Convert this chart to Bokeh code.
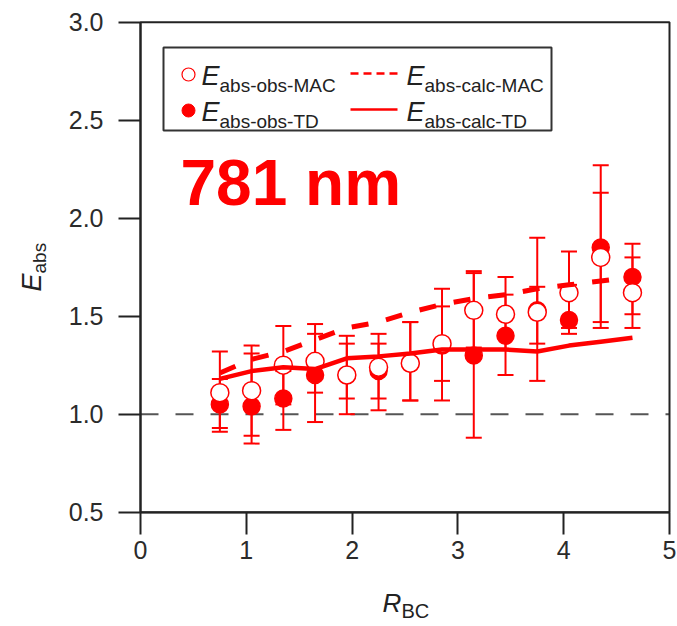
import math
from bokeh.plotting import figure
from bokeh.models import (ColumnDataSource, Whisker, TeeHead, Label,
                          BoxAnnotation, FixedTicker, Range1d)
from bokeh.embed import file_html
from bokeh.resources import INLINE

# ---------------- data ----------------
rbc = [0.75, 1.05, 1.35, 1.65, 1.95, 2.25, 2.55, 2.85, 3.15, 3.45, 3.75, 4.05, 4.35, 4.65]

obs_mac    = [1.11, 1.12, 1.25, 1.27, 1.20, 1.24, 1.26, 1.36, 1.53, 1.51, 1.52, 1.62, 1.80, 1.62]
obs_mac_lo = [0.93, 0.89, 1.05, 1.11, 1.00, 1.08, 1.07, 1.17, 1.34, 1.33, 1.36, 1.44, 1.44, 1.44]
obs_mac_hi = [1.32, 1.35, 1.45, 1.46, 1.40, 1.41, 1.47, 1.55, 1.72, 1.70, 1.65, 1.83, 2.13, 1.80]

obs_td     = [1.05, 1.04, 1.08, 1.20, 1.20, 1.22, 1.26, 1.35, 1.30, 1.40, 1.53, 1.48, 1.85, 1.70]
obs_td_lo  = [0.91, 0.85, 0.92, 0.96, 1.08, 1.02, 1.07, 1.07, 0.88, 1.20, 1.17, 1.41, 1.47, 1.51]
obs_td_hi  = [1.18, 1.31, 1.22, 1.41, 1.36, 1.36, 1.47, 1.64, 1.73, 1.61, 1.90, 1.66, 2.27, 1.87]

calc_mac   = [1.21, 1.28, 1.32, 1.38, 1.44, 1.47, 1.52, 1.56, 1.59, 1.61, 1.64, 1.66, 1.68, 1.70]
calc_td    = [1.18, 1.22, 1.24, 1.23, 1.285, 1.295, 1.31, 1.33, 1.33, 1.33, 1.32, 1.35, 1.37, 1.39]

x_ticks = [0, 1, 2, 3, 4, 5]
y_ticks = [0.5, 1.0, 1.5, 2.0, 2.5, 3.0]
ref_level = 1.0
wavelength_label = "781 nm"

legend_labels = ["abs-obs-MAC", "abs-obs-TD", "abs-calc-MAC", "abs-calc-TD"]

# ---------------- styling / layout ----------------
RED = "#ff0000"
DARK = "#222222"
FONT = "Liberation Sans"
MID = 0.3465  # (ascent - descent) / 2 for Liberation Sans, in em

W, H = 677, 626
X0, X1, Y0, Y1 = 0.0, 5.0, 0.5, 3.0
# axes box in canvas pixels
FL, FR, FT, FB = 140.0, 669.0, 21.7, 511.7
PXX = (FR - FL) / (X1 - X0)
PXY = (FB - FT) / (Y1 - Y0)


def dx(ix):
    return X0 + (ix - FL) / PXX


def dy(iy):
    return Y1 - (iy - FT) / PXY


p = figure(width=W, height=H, title=None,
           x_range=Range1d(dx(0), dx(W)), y_range=Range1d(dy(H), dy(0)),
           output_backend="svg", toolbar_location=None,
           min_border_left=0, min_border_right=0, min_border_top=0, min_border_bottom=0)
p.background_fill_color = "white"
p.border_fill_color = "white"
p.xgrid.visible = False
p.ygrid.visible = False
p.outline_line_color = None

xa, ya = p.xaxis[0], p.yaxis[0]
xa.fixed_location = Y0
ya.fixed_location = X0
xa.bounds = (X0, X1)
ya.bounds = (Y0, Y1)
for ax in (xa, ya):
    ax.axis_line_color = DARK
    ax.axis_line_width = 2
    ax.major_tick_line_color = DARK
    ax.major_tick_line_width = 2
    ax.major_tick_out = 22
    ax.major_tick_in = 0
    ax.minor_tick_line_color = None
    ax.major_label_text_font = FONT
    ax.major_label_text_font_size = "25px"
    ax.major_label_text_color = "#2b2b2b"

xa.ticker = FixedTicker(ticks=x_ticks)
ya.ticker = FixedTicker(ticks=y_ticks)
xa.major_label_standoff = 7
ya.major_label_standoff = 15
ya.major_label_overrides = {t: f"{t:.1f}" for t in y_ticks}
xa.major_label_overrides = {t: f"{t:d}" for t in x_ticks}

# axes box (top and right sides)
p.add_layout(BoxAnnotation(left=X0, right=X1, bottom=Y0, top=Y1,
                           fill_color=None, fill_alpha=0, line_color=DARK,
                           line_alpha=1, line_width=2, level="underlay"))

# reference line at 1.0 (across the axes box)
p.line([X0, X1], [ref_level, ref_level], line_color="#555555", line_width=2,
       line_dash="18 17", level="underlay")

src = ColumnDataSource(dict(x=rbc, mac=obs_mac, mac_lo=obs_mac_lo, mac_hi=obs_mac_hi,
                            td=obs_td, td_lo=obs_td_lo, td_hi=obs_td_hi,
                            cmac=calc_mac, ctd=calc_td))

for lo, hi in (("td_lo", "td_hi"), ("mac_lo", "mac_hi")):
    p.add_layout(Whisker(source=src, base="x", lower=lo, upper=hi,
                         line_color=RED, line_width=2, level="underlay",
                         upper_head=TeeHead(size=16, line_color=RED, line_width=2),
                         lower_head=TeeHead(size=16, line_color=RED, line_width=2)))

p.scatter("x", "td", source=src, marker="circle", size=17,
          fill_color=RED, line_color=RED, line_width=1.5)
p.scatter("x", "mac", source=src, marker="circle", size=18,
          fill_color="white", line_color=RED, line_width=1.5)
p.line("x", "cmac", source=src, line_color=RED, line_width=5, line_dash="17 18")
p.line("x", "ctd", source=src, line_color=RED, line_width=4.5)

# ---------------- legend (drawn by hand for subscripts) ----------------
p.add_layout(BoxAnnotation(left=dx(163), right=dx(551), top=dy(47), bottom=dy(130),
                           fill_color=None, fill_alpha=0, line_color="#333333",
                           line_alpha=1, line_width=2, level="overlay"))
p.scatter([dx(188)], [dy(74)], marker="circle", size=13, fill_color="white",
          line_color=RED, line_width=1.2)
p.scatter([dx(188)], [dy(110)], marker="circle", size=13, fill_color=RED,
          line_color=RED)
p.line([dx(350), dx(398)], [dy(73), dy(73)], line_color=RED, line_width=2.5,
       line_dash="8 5")
p.line([dx(350), dx(397)], [dy(109), dy(109)], line_color=RED, line_width=2.5)


def text_at(ix, iy, text, size, style="normal", color=DARK, angle=0.0):
    """Place text whose baseline starts at canvas pixel (ix, iy)."""
    if angle == 0.0:
        cx, cy = ix, iy - MID * size
    else:  # rotated 90 deg: baseline lies to the right of the glyphs
        cx, cy = ix - MID * size, iy
    p.add_layout(Label(x=dx(cx), y=dy(cy), text=text, text_font=FONT,
                       text_font_style=style, text_font_size=f"{size}px",
                       text_color=color, text_baseline="middle", text_align="left",
                       angle=angle))


def etext(ix, iy, sub, e_size=27, s_size=19, angle=0.0, sub_dx=18, sub_dy=7,
          color=DARK, main="E"):
    text_at(ix, iy, main, e_size, style="italic", color=color, angle=angle)
    if angle == 0.0:
        sx, sy = ix + sub_dx, iy + sub_dy
    else:
        sx, sy = ix + sub_dy, iy - sub_dx
    text_at(sx, sy, sub, s_size, color=color, angle=angle)


etext(201, 85, legend_labels[0])
etext(201, 121, legend_labels[1])
etext(406, 85, legend_labels[2])
etext(406, 121, legend_labels[3])

# big wavelength label
text_at(180, 205, wavelength_label, 64, style="bold", color=RED)

# axis titles
etext(41, 291, "abs", e_size=27, s_size=19, angle=math.pi / 2, sub_dx=18, sub_dy=5)
etext(382, 612, "BC", e_size=26, s_size=20, sub_dx=19, sub_dy=5, main="R")

open("out.html", "w").write(file_html(p, INLINE))
